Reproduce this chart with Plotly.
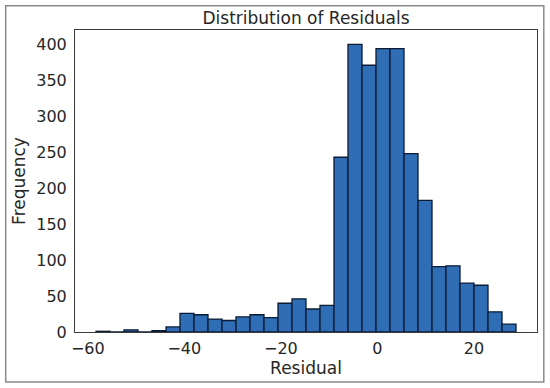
import plotly.graph_objects as go

# Data: histogram of residuals (30 equal-width bins)
bin_start = -58.3
bin_width = 2.9
counts = [1, 0, 3, 0, 2, 7, 26, 24, 18, 16,
          21, 24, 20, 40, 46, 32, 37, 243, 400, 371,
          394, 394, 248, 183, 91, 92, 68, 65, 28, 11]
x_ticks = [-60, -40, -20, 0, 20]
y_ticks = [0, 50, 100, 150, 200, 250, 300, 350, 400]

n = len(counts)
centers = [bin_start + (i + 0.5) * bin_width for i in range(n)]
lo = bin_start
hi = bin_start + n * bin_width
pad = 0.05 * (hi - lo)

TEXT = "#262626"
FONT = "DejaVu Sans"

fig = go.Figure(go.Bar(
    x=centers, y=counts, width=[bin_width] * n,
    marker=dict(color="#2f6db5", line=dict(color="#0b1b33", width=1.3)),
    hoverinfo="skip",
))

fig.update_layout(
    width=550, height=388,
    margin=dict(l=75, r=13, t=30, b=56),
    paper_bgcolor="white", plot_bgcolor="white",
    font=dict(family=FONT, size=16, color=TEXT),
    showlegend=False,
    bargap=0,
    title=dict(text="Distribution of Residuals", x=0.5, xref="paper",
               xanchor="center", y=1 - 18 / 388, yanchor="middle",
               font=dict(family=FONT, size=17, color=TEXT)),
    shapes=[dict(type="rect", xref="paper", yref="paper",
                 x0=-0.150, x1=1.0147, y0=-0.1655, y1=1.080,
                 line=dict(color="#8a8a8a", width=1.5), layer="below")],
)

fig.update_xaxes(
    range=[lo - pad, hi + pad], tickvals=x_ticks,
    ticktext=[("\u2212" + str(-v)) if v < 0 else str(v) for v in x_ticks],
    showgrid=False, zeroline=False,
    showline=True, mirror=True, linecolor="#3a3a3a", linewidth=1,
    ticks="outside", ticklen=2, tickcolor="rgba(0,0,0,0)",
    tickfont=dict(family=FONT, size=16, color=TEXT),
    title=dict(text="Residual", standoff=0, font=dict(family=FONT, size=17, color=TEXT)),
)
fig.update_yaxes(
    range=[0, 1.05 * max(counts)], tickvals=y_ticks,
    showgrid=False, zeroline=False,
    showline=True, mirror=True, linecolor="#3a3a3a", linewidth=1,
    ticks="outside", ticklen=4, tickcolor="rgba(0,0,0,0)",
    tickfont=dict(family=FONT, size=16, color=TEXT),
    title=dict(text="Frequency", standoff=6, font=dict(family=FONT, size=17, color=TEXT)),
)

fig.write_html("out.html",
               config={"displayModeBar": False, "staticPlot": True},
               post_script="document.body.style.margin='0';document.body.style.overflow='hidden';")
